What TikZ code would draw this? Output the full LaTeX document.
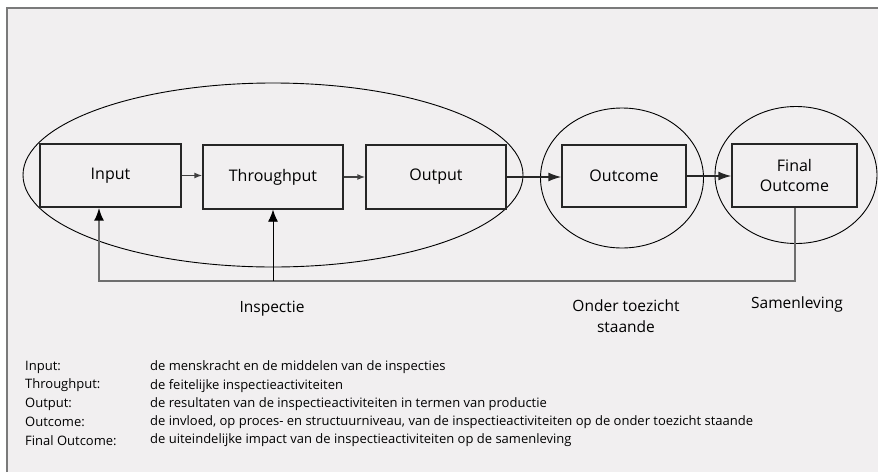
\documentclass[tikz,border=0pt]{standalone}
\usepackage{fontspec}
\setmainfont{Open Sans}
\definecolor{panelgray}{RGB}{241,239,240}
\definecolor{framegray}{RGB}{122,122,122}
\definecolor{linegray}{RGB}{110,110,110}
\usetikzlibrary{shapes.geometric,arrows.meta,positioning,calc}

\begin{document}
\begin{tikzpicture}[x=1pt, y=-1pt,
    stage/.style={rectangle, draw=black!85, line width=1.4pt, minimum width=141pt, minimum height=63pt, inner sep=0pt, align=center, font=\fontsize{16}{20}\selectfont},
    ring/.style={ellipse, draw=black, line width=0.9pt, inner sep=0pt},
    flow/.style={-{Latex[length=8pt,width=6pt]}, draw=black!75, line width=1.4pt},
    bigflow/.style={-{Latex[length=13pt,width=9pt]}, draw=black!85, line width=1.4pt},
    back/.style={draw=linegray, line width=2pt, -{Latex[length=13pt,width=10pt,color=black]}},
    thinback/.style={draw=black, line width=0.9pt, -{Latex[length=12pt,width=10pt]}},
    label/.style={align=center, font=\fontsize{15.5}{21}\selectfont},
    legend/.style={anchor=west, inner sep=0pt, font=\fontsize{13}{14}\selectfont}
]
    \useasboundingbox (0,0) rectangle (878,472);
    \fill[panelgray] (7,8) rectangle (878,472);
    \draw[framegray, line width=2pt] (7,472) -- (7,8) -- (878,8);

    % groups
    \node[ring, minimum width=500pt, minimum height=184pt] (inspRing) at (273,175) {};
    \node[ring, minimum width=163pt, minimum height=140pt] (outRing) at (622,178) {};
    \node[ring, minimum width=162pt, minimum height=137pt] (finalRing) at (796,175) {};

    % stages
    \node[stage] (input) at (110.5,175.5) {Input};
    \node[stage, minimum width=140pt, minimum height=64pt] (through) at (273,177) {Throughput};
    \node[stage, minimum width=140pt, minimum height=64pt] (output) at (436,177) {Output};
    \node[stage, minimum width=124pt, minimum height=62pt] (outcome) at (624,176) {Outcome};
    \node[stage, minimum width=125pt] (final) at (794.5,175.5) {Final\\Outcome};

    \draw[flow] (input.east) -- (input.east -| through.west);
    \draw[flow] (through.east) -- (through.east -| output.west);
    \draw[bigflow] (output.east) -- (output.east -| outcome.west);
    \draw[bigflow] (outcome.east) -- (outcome.east -| final.west);

    % feedback
    \coordinate (fbL) at (99,281);
    \draw[back] (final.south) |- (fbL) -- (fbL |- input.south);
    \draw[thinback] (through.south |- fbL) -- (through.south);

    \node[label] (inspLabel) at (272,309) {Inspectie};
    \node[label] (ontLabel) at (626,316) {Onder toezicht\\staande};
    \node[label] (samLabel) at (797,304) {Samenleving};

    % legend
    \foreach \key/\desc [count=\i] in {
        {Input:}/{de menskracht en de middelen van de inspecties},
        {Throughput:}/{de feitelijke inspectieactiviteiten},
        {Output:}/{de resultaten van de inspectieactiviteiten in termen van productie},
        {Outcome:}/{de invloed, op proces- en structuurniveau, van de inspectieactiviteiten op de onder toezicht staande},
        {Final Outcome:}/{de uiteindelijke impact van de inspectieactiviteiten op de samenleving}} {
        \node[legend] (key\i) at (25,{349+18.3*\i}) {\key};
        \node[legend] (desc\i) at (150,{349+18.3*\i}) {\desc};
    }
\end{tikzpicture}
\end{document}
